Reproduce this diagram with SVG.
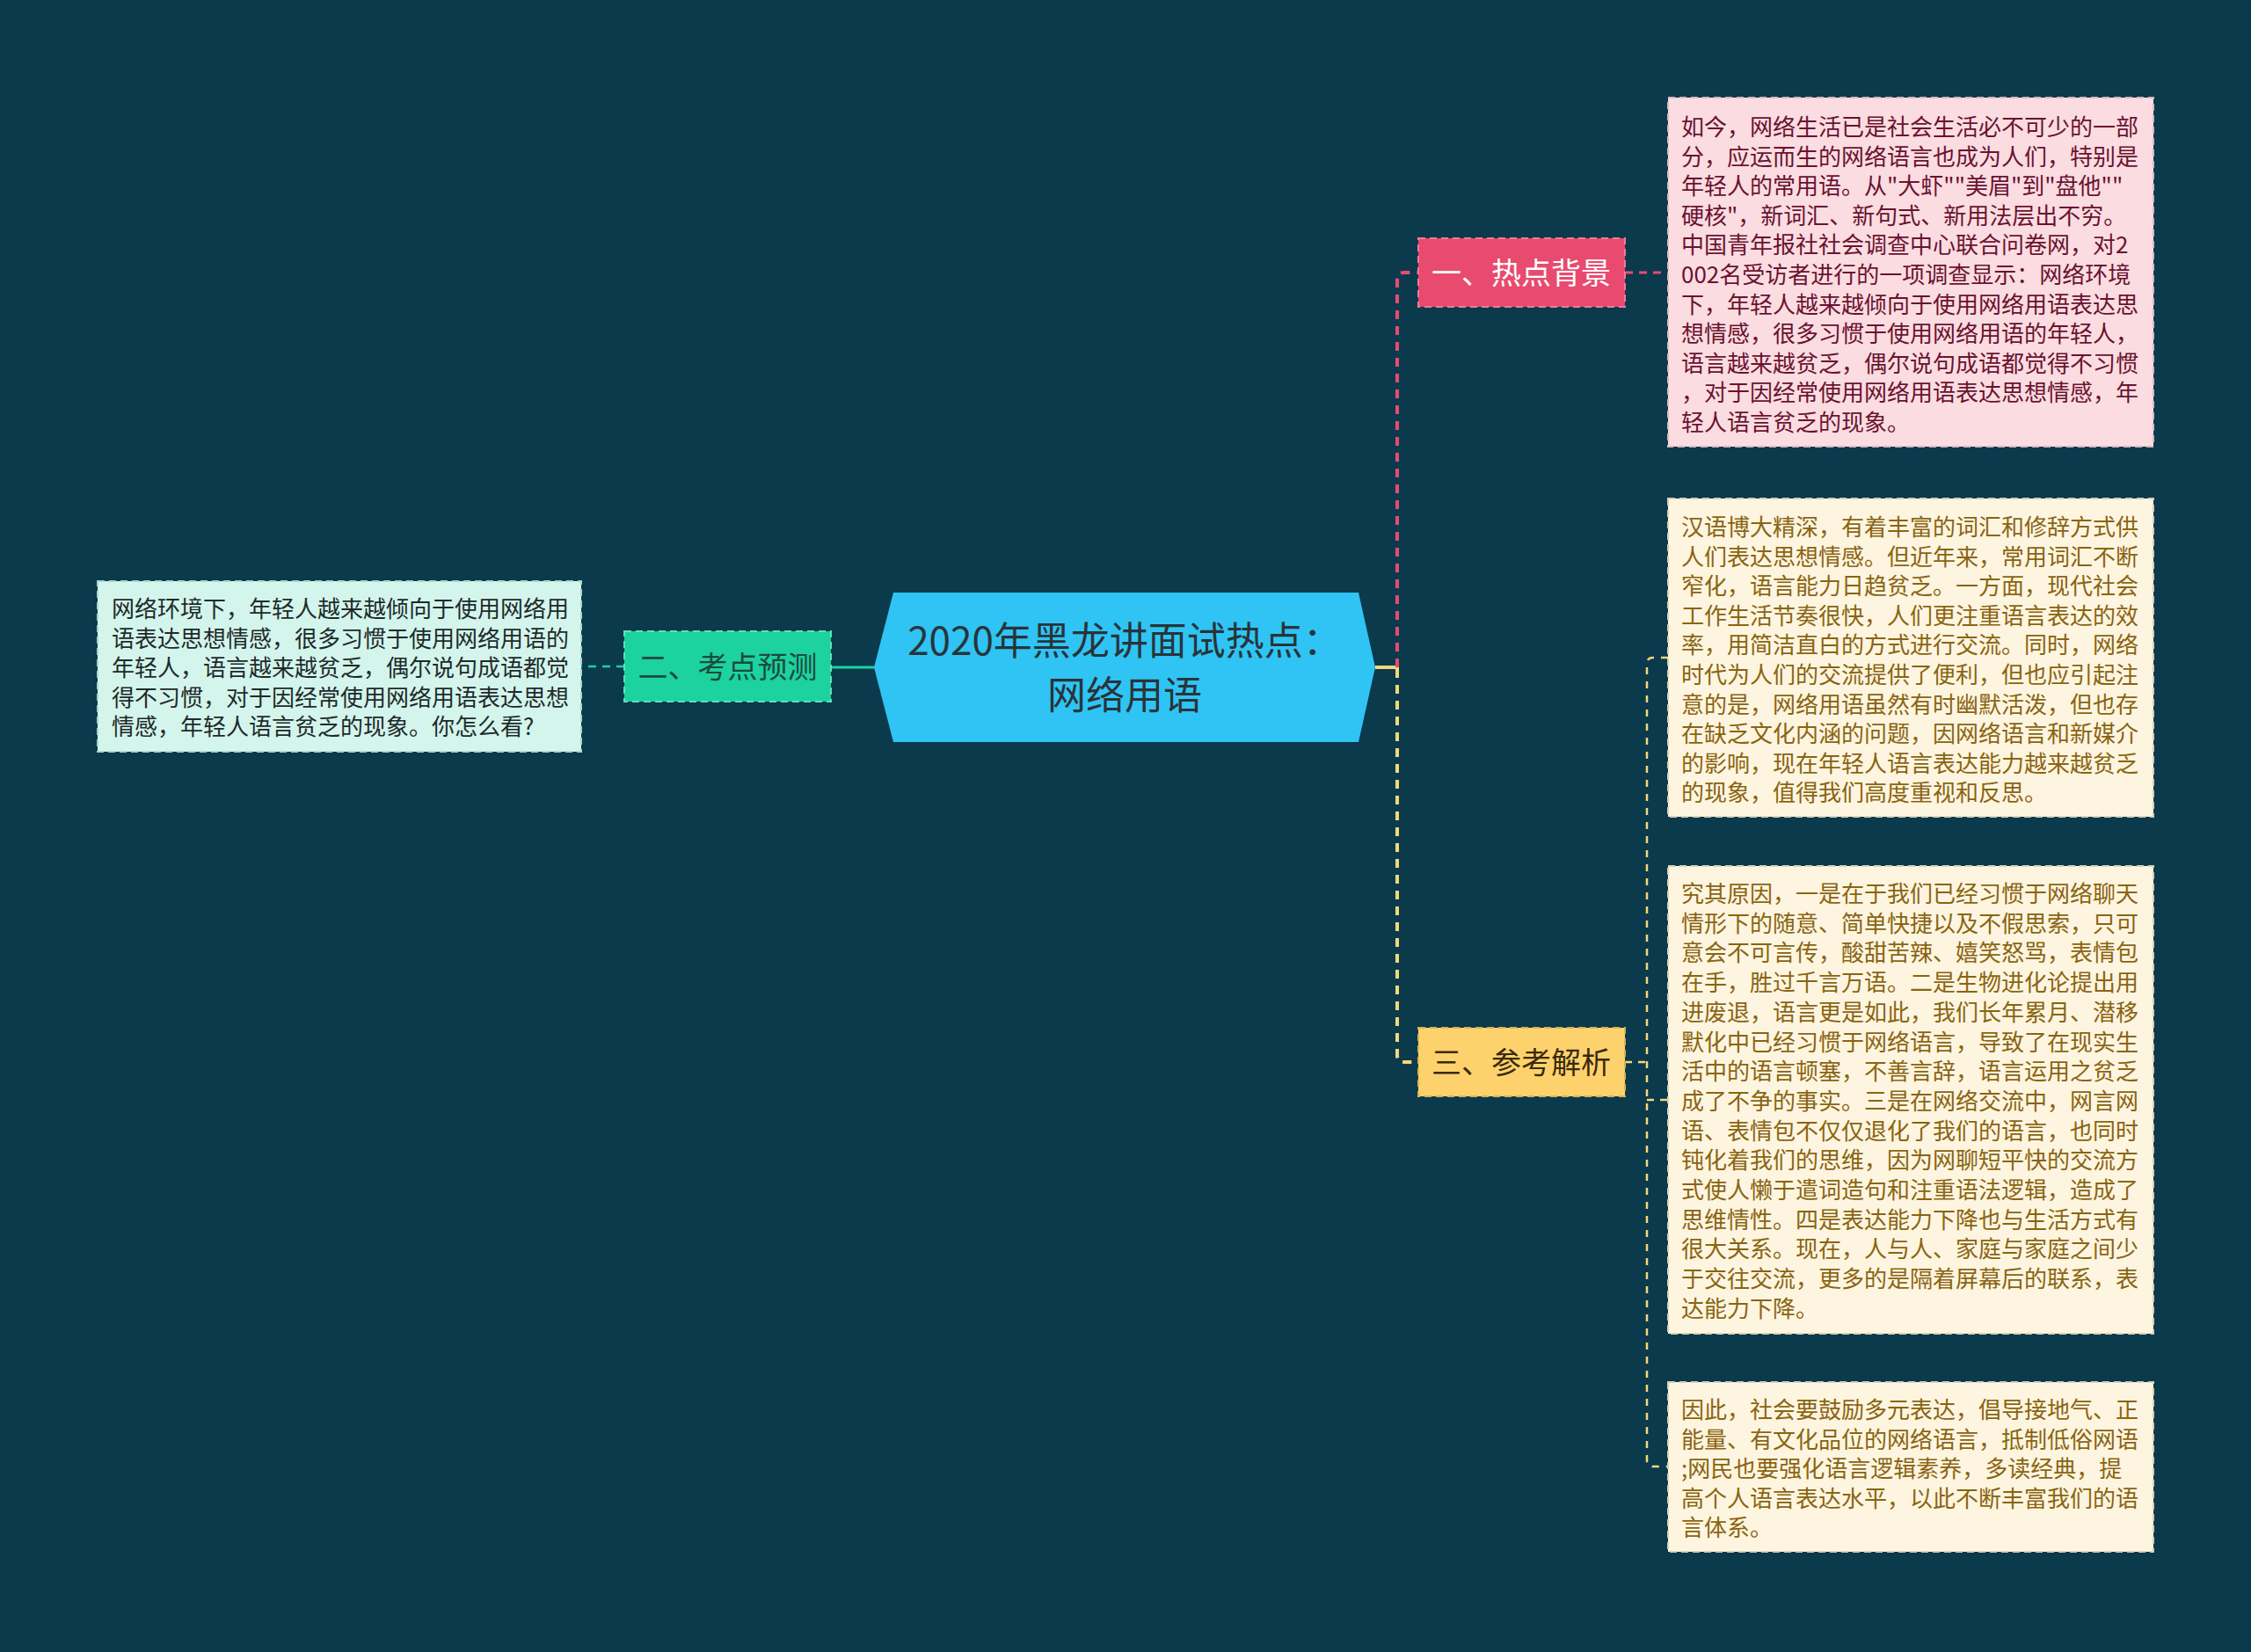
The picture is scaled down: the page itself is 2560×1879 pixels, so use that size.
<svg xmlns="http://www.w3.org/2000/svg" width="2560" height="1879" viewBox="0 0 2560 1879">
<style>
text{font-family:"Noto Sans CJK SC","Noto Sans",sans-serif;}
.body{font-size:26px;}
.node-title{font-size:34px;text-anchor:middle;}
.conn{fill:none;}
.box{stroke-width:2;stroke-dasharray:8 5;}
</style>
<rect x="0" y="0" width="2560" height="1879" fill="#0b3a4d"/>
<g id="connectors">
  <line class="conn" x1="994" y1="759" x2="945" y2="759" stroke="#1cd29e" stroke-width="3"/>
  <line class="conn" x1="710" y1="758" x2="661" y2="758" stroke="#1cd29e" stroke-width="2.5" stroke-dasharray="9 7"/>
  <line class="conn" x1="1564" y1="759" x2="1591" y2="759" stroke="#f5d77a" stroke-width="4"/>
  <path class="conn" d="M1589 759 V318 Q1589 310 1597 310 H1613" stroke="#e84b6f" stroke-width="4" stroke-dasharray="10 8"/>
  <path class="conn" d="M1589 761 V1200 Q1589 1208 1597 1208 H1613" stroke="#f5d77a" stroke-width="4" stroke-dasharray="10 8"/>
  <line class="conn" x1="1848" y1="310" x2="1897" y2="310" stroke="#e84b6f" stroke-width="3" stroke-dasharray="9 7"/>
  <line class="conn" x1="1848" y1="1208" x2="1873" y2="1208" stroke="#f5d77a" stroke-width="2.5" stroke-dasharray="8 7"/>
  <path class="conn" d="M1897 748 H1880 Q1873 748 1873 755 V1661 Q1873 1668 1880 1668 H1897" stroke="#f5d77a" stroke-width="2.5" stroke-dasharray="8 8"/>
  <line class="conn" x1="1873" y1="1251" x2="1897" y2="1251" stroke="#f5d77a" stroke-width="2.5" stroke-dasharray="8 7"/>
</g>
<g id="center">
  <polygon points="1016,674 1545,674 1564,759 1545,844 1016,844 994,759" fill="#2fc4f3"/>
  <text x="1279" y="745" font-size="44" text-anchor="middle" fill="#28343a">2020年黑龙讲面试热点：</text>
  <text x="1279" y="807" font-size="44" text-anchor="middle" fill="#28343a">网络用语</text>
</g>
<g id="node-1">
  <rect class="box" x="1613" y="271" width="235" height="78" fill="#e84b6f" stroke="#f27a96"/>
  <text class="node-title" x="1730" y="323" fill="#ffffff">一、热点背景</text>
</g>
<g id="node-1-detail">
  <rect class="box" x="1897" y="111" width="552" height="397" fill="#fadce1" stroke="#d9b9be"/>
  <text class="body" fill="#6b1230">
    <tspan x="1912" y="154">如今，网络生活已是社会生活必不可少的一部</tspan>
    <tspan x="1912" y="187.6">分，应运而生的网络语言也成为人们，特别是</tspan>
    <tspan x="1912" y="221.2">年轻人的常用语。从"大虾""美眉"到"盘他""</tspan>
    <tspan x="1912" y="254.8">硬核"，新词汇、新句式、新用法层出不穷。</tspan>
    <tspan x="1912" y="288.4">中国青年报社社会调查中心联合问卷网，对2</tspan>
    <tspan x="1912" y="322">002名受访者进行的一项调查显示：网络环境</tspan>
    <tspan x="1912" y="355.6">下，年轻人越来越倾向于使用网络用语表达思</tspan>
    <tspan x="1912" y="389.2">想情感，很多习惯于使用网络用语的年轻人，</tspan>
    <tspan x="1912" y="422.8">语言越来越贫乏，偶尔说句成语都觉得不习惯</tspan>
    <tspan x="1912" y="456.4">，对于因经常使用网络用语表达思想情感，年</tspan>
    <tspan x="1912" y="490">轻人语言贫乏的现象。</tspan>
  </text>
</g>
<g id="node-2">
  <rect class="box" x="710" y="718" width="235" height="80" fill="#1cd29e" stroke="#5fe0ba"/>
  <text class="node-title" x="827.5" y="771" fill="#1d4a3e">二、考点预测</text>
</g>
<g id="node-2-detail">
  <rect class="box" x="111" y="661" width="550" height="194" fill="#d3f5ec" stroke="#a9d6ca"/>
  <text class="body" fill="#1e2a2a">
    <tspan x="127" y="702">网络环境下，年轻人越来越倾向于使用网络用</tspan>
    <tspan x="127" y="735.6">语表达思想情感，很多习惯于使用网络用语的</tspan>
    <tspan x="127" y="769.2">年轻人，语言越来越贫乏，偶尔说句成语都觉</tspan>
    <tspan x="127" y="802.8">得不习惯，对于因经常使用网络用语表达思想</tspan>
    <tspan x="127" y="836.4">情感，年轻人语言贫乏的现象。你怎么看?</tspan>
  </text>
</g>
<g id="node-3">
  <rect class="box" x="1613" y="1169" width="235" height="78" fill="#fdd26d" stroke="#d9b24f"/>
  <text class="node-title" x="1730" y="1221" fill="#3a2a0c">三、参考解析</text>
</g>
<g id="node-3-detail-1">
  <rect class="box" x="1897" y="567" width="552" height="362" fill="#fdf5df" stroke="#d8cfb4"/>
  <text class="body" fill="#8a6412">
    <tspan x="1912" y="609">汉语博大精深，有着丰富的词汇和修辞方式供</tspan>
    <tspan x="1912" y="642.6">人们表达思想情感。但近年来，常用词汇不断</tspan>
    <tspan x="1912" y="676.2">窄化，语言能力日趋贫乏。一方面，现代社会</tspan>
    <tspan x="1912" y="709.8">工作生活节奏很快，人们更注重语言表达的效</tspan>
    <tspan x="1912" y="743.4">率，用简洁直白的方式进行交流。同时，网络</tspan>
    <tspan x="1912" y="777">时代为人们的交流提供了便利，但也应引起注</tspan>
    <tspan x="1912" y="810.6">意的是，网络用语虽然有时幽默活泼，但也存</tspan>
    <tspan x="1912" y="844.2">在缺乏文化内涵的问题，因网络语言和新媒介</tspan>
    <tspan x="1912" y="877.8">的影响，现在年轻人语言表达能力越来越贫乏</tspan>
    <tspan x="1912" y="911.4">的现象，值得我们高度重视和反思。</tspan>
  </text>
</g>
<g id="node-3-detail-2">
  <rect class="box" x="1897" y="985" width="552" height="532" fill="#fdf5df" stroke="#d8cfb4"/>
  <text class="body" fill="#8a6412">
    <tspan x="1912" y="1026">究其原因，一是在于我们已经习惯于网络聊天</tspan>
    <tspan x="1912" y="1059.7">情形下的随意、简单快捷以及不假思索，只可</tspan>
    <tspan x="1912" y="1093.4">意会不可言传，酸甜苦辣、嬉笑怒骂，表情包</tspan>
    <tspan x="1912" y="1127.1">在手，胜过千言万语。二是生物进化论提出用</tspan>
    <tspan x="1912" y="1160.8">进废退，语言更是如此，我们长年累月、潜移</tspan>
    <tspan x="1912" y="1194.5">默化中已经习惯于网络语言，导致了在现实生</tspan>
    <tspan x="1912" y="1228.2">活中的语言顿塞，不善言辞，语言运用之贫乏</tspan>
    <tspan x="1912" y="1261.9">成了不争的事实。三是在网络交流中，网言网</tspan>
    <tspan x="1912" y="1295.6">语、表情包不仅仅退化了我们的语言，也同时</tspan>
    <tspan x="1912" y="1329.3">钝化着我们的思维，因为网聊短平快的交流方</tspan>
    <tspan x="1912" y="1363">式使人懒于遣词造句和注重语法逻辑，造成了</tspan>
    <tspan x="1912" y="1396.7">思维情性。四是表达能力下降也与生活方式有</tspan>
    <tspan x="1912" y="1430.4">很大关系。现在，人与人、家庭与家庭之间少</tspan>
    <tspan x="1912" y="1464.1">于交往交流，更多的是隔着屏幕后的联系，表</tspan>
    <tspan x="1912" y="1497.8">达能力下降。</tspan>
  </text>
</g>
<g id="node-3-detail-3">
  <rect class="box" x="1897" y="1572" width="552" height="193" fill="#fdf5df" stroke="#d8cfb4"/>
  <text class="body" fill="#8a6412">
    <tspan x="1912" y="1613">因此，社会要鼓励多元表达，倡导接地气、正</tspan>
    <tspan x="1912" y="1646.6">能量、有文化品位的网络语言，抵制低俗网语</tspan>
    <tspan x="1912" y="1680.2">;网民也要强化语言逻辑素养，多读经典，提</tspan>
    <tspan x="1912" y="1713.8">高个人语言表达水平，以此不断丰富我们的语</tspan>
    <tspan x="1912" y="1747.4">言体系。</tspan>
  </text>
</g>
</svg>
